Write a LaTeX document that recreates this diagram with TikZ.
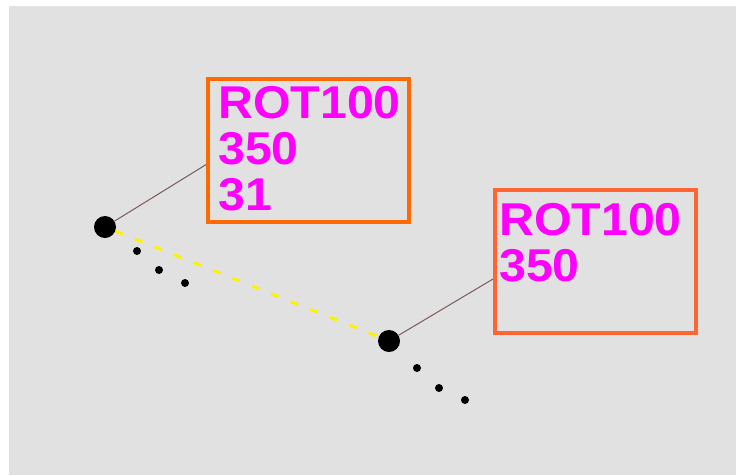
\documentclass[tikz,border=0pt]{standalone}
\usepackage{fontspec}
\newfontfamily\labelfont[FakeStretch=1.05]{Liberation Sans Bold}
\definecolor{panelgray}{HTML}{E1E1E1}
\definecolor{boxorangeA}{HTML}{FF6A00}
\definecolor{boxorangeB}{HTML}{FF6633}
\definecolor{labelmagenta}{HTML}{FF00FF}
\definecolor{leader}{HTML}{7A5A5A}
\tikzset{
  bigdot/.style={circle, fill=black, inner sep=0pt, minimum size=22pt},
  smalldot/.style={circle, fill=black, inner sep=0pt, minimum size=8pt},
  tagbox/.style={rectangle, draw, line width=4pt, inner sep=0pt,
                 minimum width=201pt, minimum height=143pt},
  tagtext/.style={anchor=north west, inner sep=0pt, align=left,
                  text=labelmagenta,
                  font=\labelfont\fontsize{46}{46}\selectfont},
  leaderline/.style={draw=leader, line width=1pt},
  track/.style={draw=yellow, line width=3pt, dash pattern=on 8pt off 13pt}
}
\begin{document}
\begin{tikzpicture}[x=1pt, y=-1pt]
  \useasboundingbox (0,0) rectangle (736,475);
  \fill[white] (0,0) rectangle (736,475);
  \fill[panelgray] (9,6) rectangle (736,475);

  % positions
  \node[bigdot] (p1) at (105,227) {};
  \node[bigdot] (p2) at (389,341) {};

  % yellow dashed track between the two positions
  \draw[track] (p1) -- (p2);

  % trailing history points
  \node[smalldot] (h11) at (137,251) {};
  \node[smalldot] (h12) at (159,270) {};
  \node[smalldot] (h13) at (185,283) {};
  \node[smalldot] (h21) at (417,368) {};
  \node[smalldot] (h22) at (439,388) {};
  \node[smalldot] (h23) at (465,400) {};

  % label boxes
  \coordinate (t1) at (207,164);
  \coordinate (t2) at (493,279);
  \draw[leaderline] (p1) -- (t1);
  \draw[leaderline] (p2) -- (t2);

  \node[tagbox, draw=boxorangeA] (b1) at (308.5,150.5) {};
  \node[tagbox, draw=boxorangeB] (b2) at (595,261.5) {};

  \node[tagtext] (l1) at (218,86.5) {ROT100\\350\\31};
  \node[tagtext] (l2) at (499,203.5) {ROT100\\350};
\end{tikzpicture}
\end{document}
